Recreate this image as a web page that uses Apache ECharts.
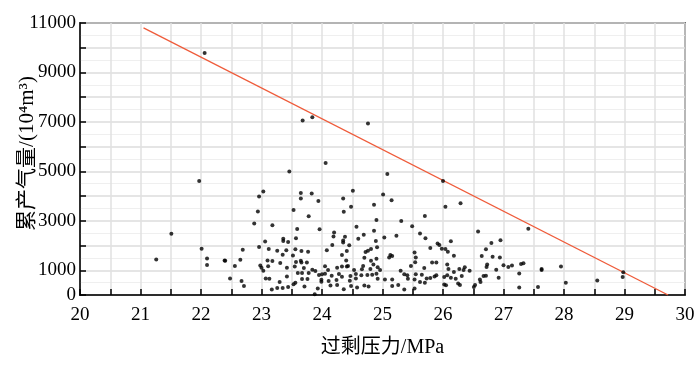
<!DOCTYPE html>
<html><head><meta charset="utf-8">
<script src="https://cdn.jsdelivr.net/npm/echarts@6/dist/echarts.min.js"></script>
<style>html,body{margin:0;padding:0;background:#fff}#c{width:700px;height:373px}</style>
</head><body><div id="c"></div>
<script>
// Excess pressure (MPa) and cumulative gas production (10^4 m^3)
const pressure = [
21.97,21.51,21.26,22.01,22.10,22.10,22.40,
22.06,23.68,23.84,24.76,24.06,
23.46,23.03,23.65,23.83,22.96,23.65,23.94,22.94,23.53,23.78,22.88,23.18,23.59,23.96,23.57,23.36,23.36,23.06,23.44,22.96,22.69,23.12,23.26,23.56,23.66,23.77,23.41,23.35,23.52,22.39,22.65,23.10,23.18,23.31,23.65,23.66,23.75,23.57,22.56,22.98,23.00,23.11,23.42,23.55,23.70,23.84,23.03,23.60,23.67,23.78,23.89,23.95,23.42,22.48,23.07,23.13,23.67,23.76,22.67,23.30,23.56,23.53,22.71,23.71,23.26,23.17,23.35,23.44,23.93,23.88,
25.08,24.51,24.35,25.01,25.15,24.48,24.86,24.36,24.90,25.31,25.49,24.57,24.20,24.86,24.69,24.19,25.23,24.38,24.60,25.03,24.35,24.35,24.89,24.45,24.17,24.91,24.81,24.76,24.72,24.08,24.41,24.33,25.13,25.16,25.11,25.53,25.55,24.70,24.90,24.40,24.81,25.54,24.05,24.25,24.33,24.41,24.43,24.68,24.85,24.92,25.47,24.10,24.53,24.66,24.80,24.96,25.30,24.00,24.05,24.16,24.28,24.33,24.47,24.56,24.65,24.75,24.83,24.90,25.36,25.41,25.55,23.99,23.99,24.11,24.24,24.46,24.56,24.92,25.04,25.16,25.42,25.53,24.14,24.25,24.36,24.48,24.58,24.70,24.77,25.16,25.26,25.36,25.53,
26.00,26.04,26.29,25.70,25.62,25.71,26.58,26.13,25.91,25.94,25.79,25.98,26.04,26.08,26.80,26.95,26.71,26.82,26.94,26.64,26.18,25.82,25.89,25.69,26.07,26.09,26.73,26.72,26.88,27.00,27.08,27.14,26.27,26.34,26.44,26.36,26.18,25.65,25.73,25.79,25.86,25.89,26.02,26.07,26.13,26.21,26.31,26.61,26.67,26.71,26.92,27.26,25.62,25.70,26.02,26.05,26.25,26.28,26.62,26.53,26.51,27.26,
27.41,27.63,27.63,27.57,27.95,28.03,28.55,28.98,28.97,27.33,27.29
];
const production = [
4610,2480,1440,1870,1480,1210,1390,
9790,7060,7190,6940,5340,
4990,4190,4130,4100,3980,3900,3800,3380,3440,3180,2890,2820,2670,2660,2300,2270,2180,2160,2140,1940,1830,1860,1790,1850,1780,1750,1810,1630,1600,1400,1430,1400,1380,1290,1390,1310,1310,1330,1170,1190,1100,1160,1100,1150,1090,1020,980,890,890,890,970,810,750,670,670,660,650,650,570,530,500,430,360,340,280,220,280,320,260,30,
4890,4220,3900,4060,3830,3570,3650,3370,3030,2990,2780,2760,2530,2600,2440,2370,2400,2360,2270,2330,2200,2120,2180,2010,2020,1930,1860,1790,1740,1810,1780,1620,1620,1580,1520,1720,1520,1510,1470,1400,1390,1320,1160,1100,1150,1150,1170,1170,1230,1120,1170,1010,1010,1040,1050,1010,980,840,860,780,850,740,770,850,800,810,820,860,840,800,840,620,540,570,610,580,670,660,630,630,660,630,380,400,230,360,300,380,340,360,400,220,260,
4610,3570,3710,3190,2490,2290,2570,2170,2080,2020,1900,1870,1860,1750,2100,2210,1850,1550,1520,1580,1590,1310,1310,1090,1230,1050,1230,1130,1020,1200,1130,1190,1050,1010,980,1120,930,820,670,690,750,800,730,800,700,660,770,630,770,780,700,870,530,500,420,390,470,400,530,400,320,300,
2680,1050,1010,320,1150,500,590,920,730,1280,1250
];
// Boundary line end points
const limitX = [21.05, 29.72];
const limitY = [10800, 0];
const yLabelValues = [0, 1000, 3000, 5000, 7000, 9000, 11000];

const points = pressure.map((p, i) => [p, production[i]]);
const limitLine = limitX.map((x, i) => [x, limitY[i]]);

const serif = '"Liberation Serif", "DejaVu Serif", serif';
const chart = echarts.init(document.getElementById('c'), null, {renderer: 'canvas'});
chart.setOption({
  animation: false,
  backgroundColor: '#fff',
  grid: {left: 80, right: 15, top: 23, bottom: 78, show: true, borderColor: '#000', borderWidth: 1.5,
    backgroundColor: 'transparent', containLabel: false, outerBoundsMode: 'none'},
  xAxis: {
    type: 'value', min: 20, max: 30, interval: 0.5,
    name: '过剩压力/MPa', nameLocation: 'middle', nameGap: 43, nameMoveOverlap: false,
    nameTextStyle: {fontSize: 20, color: '#000', fontFamily: serif + ', "Noto Sans CJK SC"'},
    axisLine: {lineStyle: {color: '#000', width: 1.5}},
    axisTick: {inside: true, length: 6, lineStyle: {color: '#000', width: 1.5}},
    axisLabel: {color: '#000', fontSize: 19, fontFamily: serif, margin: 11,
      formatter: v => (Math.abs(v - Math.round(v)) < 1e-6 ? String(Math.round(v)) : '')},
    splitLine: {show: true, lineStyle: {color: '#e0e0e0', width: 1.5}}
  },
  yAxis: {
    type: 'value', min: 0, max: 11000, interval: 1000,
    name: '累产气量/(10⁴m³)', nameLocation: 'middle', nameGap: 42, nameRotate: 90, nameMoveOverlap: false,
    nameTextStyle: {fontSize: 21, color: '#000', fontFamily: serif + ', "Noto Sans CJK SC"', padding: [0, 0, 0, 11]},
    axisLine: {lineStyle: {color: '#000', width: 1.5}},
    axisTick: {inside: true, length: 6, lineStyle: {color: '#000', width: 1.5}},
    axisLabel: {color: '#000', fontSize: 19, fontFamily: serif, margin: 4,
      formatter: v => (yLabelValues.indexOf(v) >= 0 ? String(v) : '')},
    splitLine: {show: true, lineStyle: {color: '#dcdcdc', width: 1.5}},
    minorTick: {show: false, splitNumber: 2},
    minorSplitLine: {show: true, lineStyle: {color: '#efefef', width: 1}}
  },
  series: [
    {type: 'scatter', data: points, symbolSize: 4, itemStyle: {color: '#000'}, z: 3},
    {type: 'line', data: limitLine, symbol: 'none', lineStyle: {color: '#ef5b3a', width: 1.3}, z: 2}
  ]
});
</script></body></html>
